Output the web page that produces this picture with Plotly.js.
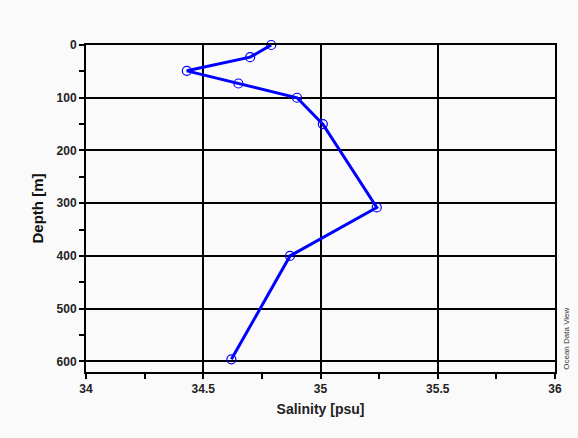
<!DOCTYPE html>
<html><head><meta charset="utf-8">
<script src="https://cdn.plot.ly/plotly-3.0.1.min.js"></script>
<style>body{margin:0;background:#fafafa}</style>
</head><body><div id="chart" style="width:578px;height:438px"></div>
<script>
const salinity = [34.79, 34.70, 34.43, 34.65, 34.90, 35.01, 35.24, 34.87, 34.62];
const depth = [0, 23, 49, 73, 100, 150, 308, 400, 596];
const xTicks = [34, 34.5, 35, 35.5, 36];
const yTicks = [0, 100, 200, 300, 400, 500, 600];

const trace = {
  x: salinity, y: depth, type: 'scatter', mode: 'lines+markers',
  line: {color: '#0000ff', width: 3},
  marker: {symbol: 'circle-open', size: 9, color: '#0000ff', line: {width: 1.2, color: '#0000ff'}},
  cliponaxis: false
};
const font = {family: 'Liberation Sans, Arial, sans-serif', color: '#222', size: 12};
const layout = {
  width: 578, height: 438,
  margin: {l: 86, r: 23, t: 45, b: 66},
  paper_bgcolor: '#fafafa', plot_bgcolor: '#fafafa',
  showlegend: false,
  font: font,
  xaxis: {
    range: [34, 36], tickvals: xTicks, ticktext: xTicks.map(String),
    showgrid: true, gridcolor: '#000', gridwidth: 1.5,
    showline: true, linecolor: '#000', linewidth: 2, mirror: true,
    ticks: 'outside', ticklen: 5, tickcolor: '#000', tickwidth: 1.5,
    minor: {dtick: 0.25, ticks: 'outside', ticklen: 5, tickcolor: '#000', tickwidth: 1.5, showgrid: false},
    tickfont: {family: 'Liberation Sans, Arial, sans-serif', size: 12, color: '#222', weight: 'bold'},
    zeroline: false,
    title: {text: 'Salinity [psu]', font: {size: 14, color: '#222', weight: 'bold'}, standoff: 9}
  },
  yaxis: {
    range: [620, 0], tickvals: yTicks, ticktext: yTicks.map(String),
    showgrid: true, gridcolor: '#000', gridwidth: 1.5,
    showline: true, linecolor: '#000', linewidth: 2, mirror: true,
    ticks: 'outside', ticklen: 5, tickcolor: '#000', tickwidth: 1.5,
    minor: {dtick: 50, ticks: 'outside', ticklen: 5, tickcolor: '#000', tickwidth: 1.5, showgrid: false},
    tickfont: {family: 'Liberation Sans, Arial, sans-serif', size: 12, color: '#222', weight: 'bold'},
    zeroline: false,
    title: {text: 'Depth [m]', font: {size: 15, color: '#111', weight: 'bold'}, standoff: 9}
  },
  annotations: [{
    text: 'Ocean Data View', xref: 'paper', yref: 'paper', x: 1.023, y: 0.0,
    xanchor: 'center', yanchor: 'bottom', textangle: -90, showarrow: false,
    font: {size: 8, color: '#333'}
  }]
};
Plotly.newPlot('chart', [trace], layout, {displayModeBar: false});
</script></body></html>
